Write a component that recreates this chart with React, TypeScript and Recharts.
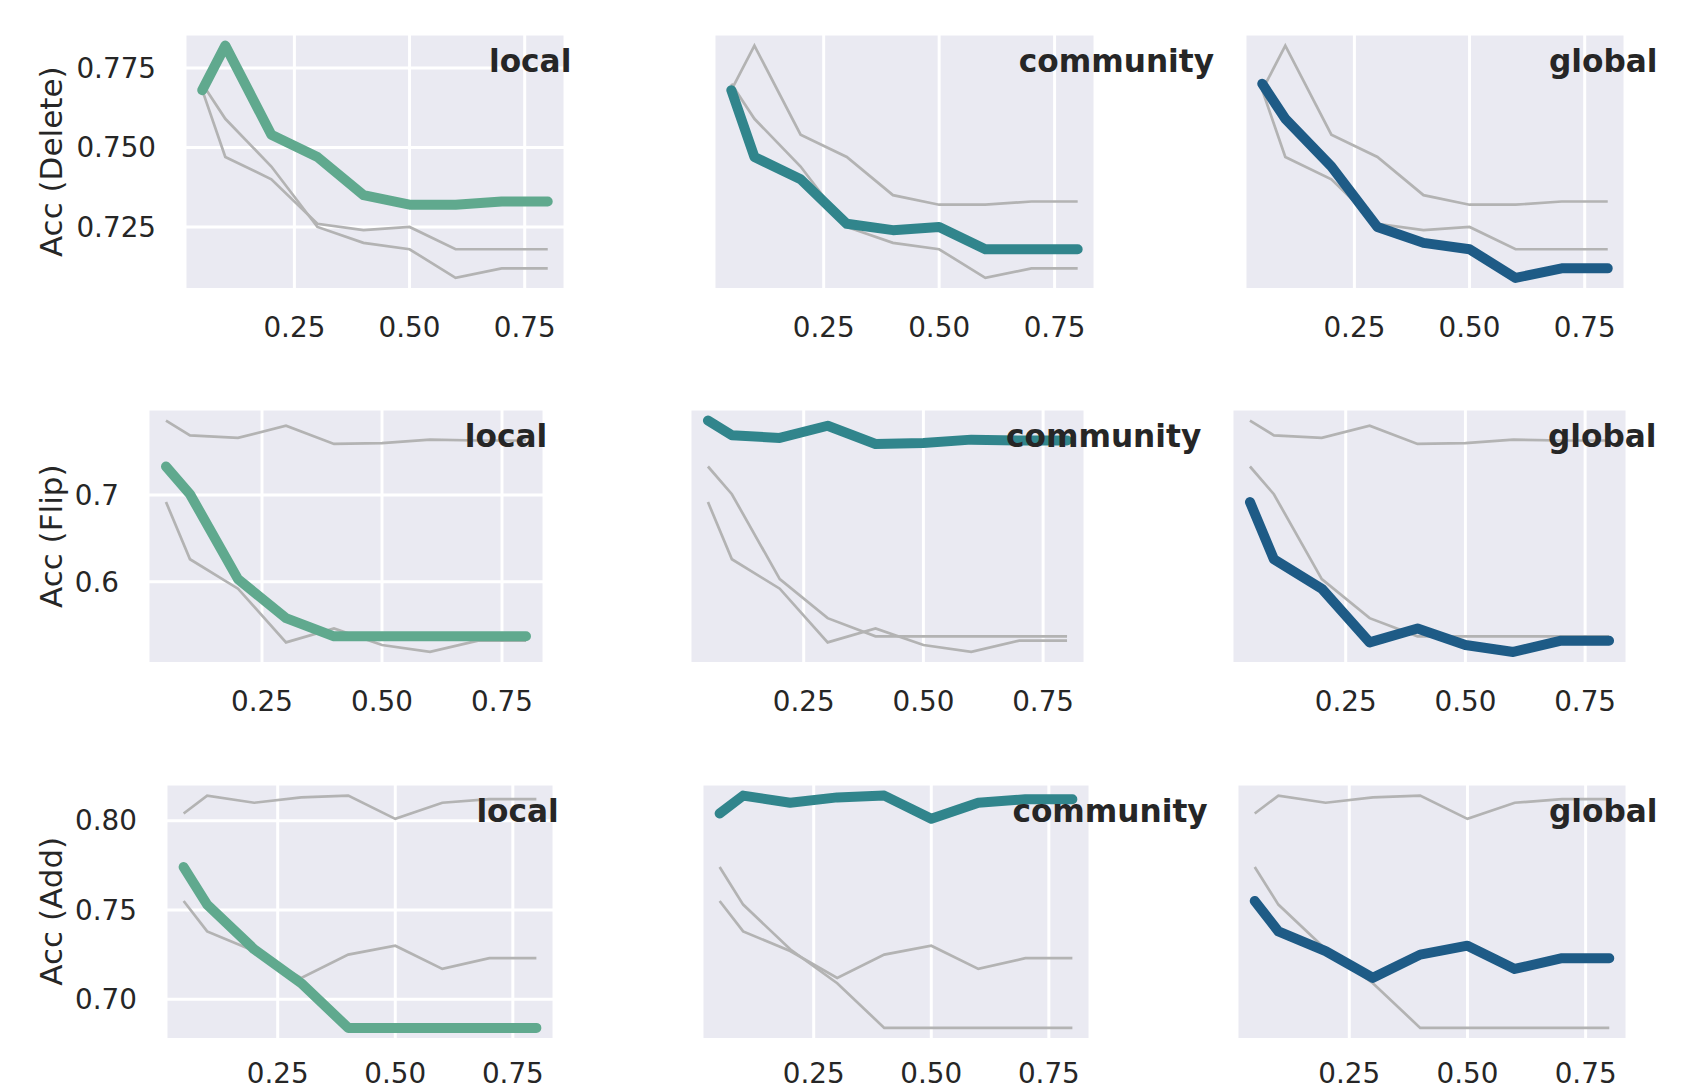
import React from "react";
import { LineChart, Line, XAxis, YAxis, CartesianGrid } from "recharts";

// edge ratio on the x axis
const RATIOS = [0.05, 0.1, 0.2, 0.3, 0.4, 0.5, 0.6, 0.7, 0.8];
const X_TICKS = [0.25, 0.5, 0.75];
const METHODS = ["local", "community", "global"];

// Acc (Delete)
const deleteLocal = [0.768, 0.782, 0.754, 0.747, 0.735, 0.732, 0.732, 0.733, 0.733];
const deleteCommunity = [0.768, 0.747, 0.74, 0.726, 0.724, 0.725, 0.718, 0.718, 0.718];
const deleteGlobal = [0.77, 0.759, 0.744, 0.725, 0.72, 0.718, 0.709, 0.712, 0.712];

// Acc (Flip)
const flipLocal = [0.733, 0.701, 0.603, 0.558, 0.537, 0.537, 0.537, 0.537, 0.537];
const flipCommunity = [0.786, 0.769, 0.766, 0.78, 0.759, 0.76, 0.764, 0.763, 0.763];
const flipGlobal = [0.692, 0.626, 0.592, 0.53, 0.546, 0.527, 0.519, 0.532, 0.532];

// Acc (Add)
const addLocal = [0.774, 0.753, 0.728, 0.709, 0.684, 0.684, 0.684, 0.684, 0.684];
const addCommunity = [0.804, 0.814, 0.81, 0.813, 0.814, 0.801, 0.81, 0.812, 0.812];
const addGlobal = [0.755, 0.738, 0.727, 0.712, 0.725, 0.73, 0.717, 0.723, 0.723];

const deleteTicks = [0.725, 0.75, 0.775];
const flipTicks = [0.6, 0.7];
const addTicks = [0.7, 0.75, 0.8];

const COLORS: Record<string, string> = {
    local: "#60a98e",
    community: "#31858c",
    global: "#1e5b86",
};
const GRAY = "#b3b3b3";
const TEXT = "#262626";
const FONT = "DejaVu Sans, sans-serif";
const TICK_SIZE = 27.8;

function buildRows() {
    const raw = [
        { label: "Acc (Delete)", series: [deleteLocal, deleteCommunity, deleteGlobal], ticks: deleteTicks, digits: 3 },
        { label: "Acc (Flip)", series: [flipLocal, flipCommunity, flipGlobal], ticks: flipTicks, digits: 1 },
        { label: "Acc (Add)", series: [addLocal, addCommunity, addGlobal], ticks: addTicks, digits: 2 },
    ];
    return raw.map((r) => {
        const all = r.series.flat();
        const lo = Math.min(...all);
        const hi = Math.max(...all);
        const pad = (hi - lo) * 0.05;
        const data = RATIOS.map((x, i) => ({
            x,
            local: r.series[0][i],
            community: r.series[1][i],
            global: r.series[2][i],
        }));
        return { ...r, data, domain: [lo - pad, hi + pad] };
    });
}

const ROWS = buildRows();

// plot rectangles (inner axes area), per row / column
const ROW_Y = [
    [34, 289.5],
    [409, 663.5],
    [783.5, 1039],
];
const COL_X = [
    [[185, 565], [714, 1095], [1245, 1625]],
    [[148, 544], [690, 1085], [1232, 1627]],
    [[166, 554], [702, 1090], [1237, 1627]],
];
// bottom row labels sit close to the page edge, pull them up a little
const X_TICK_MARGIN = [28, 28, 24];
const X_AXIS_H = [70, 70, 51];

const Y_AXIS_W = 140;

function Panel({ row, ri, ci }: { row: (typeof ROWS)[number]; ri: number; ci: number }) {
    const [x0, x1] = COL_X[ri][ci];
    const [y0, y1] = ROW_Y[ri];
    const yw = ci === 0 ? Y_AXIS_W : 1;
    const width = x1 - x0 + yw + 2;
    const height = y1 - y0 + X_AXIS_H[ri];
    const focus = METHODS[ci];
    const others = METHODS.filter((m) => m !== focus);

    return (
        <div style={{ position: "absolute", left: x0 - yw, top: y0 }}>
            <LineChart width={width} height={height} data={row.data} margin={{ top: 0, right: 2, bottom: 0, left: 0 }}>
                <CartesianGrid stroke="#ffffff" strokeWidth={3} fill="#eaeaf2" fillOpacity={1} />
                <XAxis
                    dataKey="x"
                    type="number"
                    domain={[0.0125, 0.8375]}
                    ticks={X_TICKS}
                    tickFormatter={(v: number) => v.toFixed(2)}
                    axisLine={false}
                    tickLine={false}
                    tickSize={0}
                    tickMargin={X_TICK_MARGIN[ri]}
                    height={X_AXIS_H[ri]}
                    tick={{ fill: TEXT, fontSize: TICK_SIZE, fontFamily: FONT }}
                />
                <YAxis
                    type="number"
                    domain={row.domain}
                    ticks={row.ticks}
                    width={yw}
                    axisLine={false}
                    tickLine={false}
                    tickSize={0}
                    tickMargin={29}
                    tickFormatter={(v: number) => v.toFixed(row.digits)}
                    tick={ci === 0 ? { fill: TEXT, fontSize: TICK_SIZE, fontFamily: FONT } : false}
                />
                {others.map((m) => (
                    <Line
                        key={m}
                        type="linear"
                        dataKey={m}
                        stroke={GRAY}
                        strokeWidth={2.7}
                        dot={false}
                        isAnimationActive={false}
                    />
                ))}
                <Line
                    type="linear"
                    dataKey={focus}
                    stroke={COLORS[focus]}
                    strokeWidth={10}
                    strokeLinecap="round"
                    strokeLinejoin="round"
                    dot={false}
                    isAnimationActive={false}
                />
            </LineChart>
        </div>
    );
}

export default function App() {
    return (
        <div
            style={{
                position: "absolute",
                left: 0,
                top: 0,
                width: 1688,
                height: 1090,
                background: "#ffffff",
                fontFamily: FONT,
                overflow: "hidden",
            }}
        >
            {ROWS.map((row, ri) => METHODS.map((m, ci) => <Panel key={`${ri}-${m}`} row={row} ri={ri} ci={ci} />))}
            <svg width={1688} height={1090} style={{ position: "absolute", left: 0, top: 0, pointerEvents: "none" }}>
                {ROWS.map((row, ri) => {
                    const [y0, y1] = ROW_Y[ri];
                    const cy = (y0 + y1) / 2;
                    return (
                        <g key={row.label}>
                            <text
                                x={51}
                                y={cy}
                                transform={`rotate(-90, 51, ${cy})`}
                                textAnchor="middle"
                                dominantBaseline="central"
                                fontSize={31}
                                fontFamily={FONT}
                                fill={TEXT}
                            >
                                {row.label}
                            </text>
                            {METHODS.map((m, ci) => {
                                const [x0, x1] = COL_X[ri][ci];
                                return (
                                    <text
                                        key={m}
                                        x={x0 + 0.8 * (x1 - x0)}
                                        y={y1 - 0.85 * (y1 - y0)}
                                        fontSize={31.2}
                                        fontWeight="bold"
                                        fontFamily={FONT}
                                        fill={TEXT}
                                    >
                                        {m}
                                    </text>
                                );
                            })}
                        </g>
                    );
                })}
            </svg>
        </div>
    );
}
